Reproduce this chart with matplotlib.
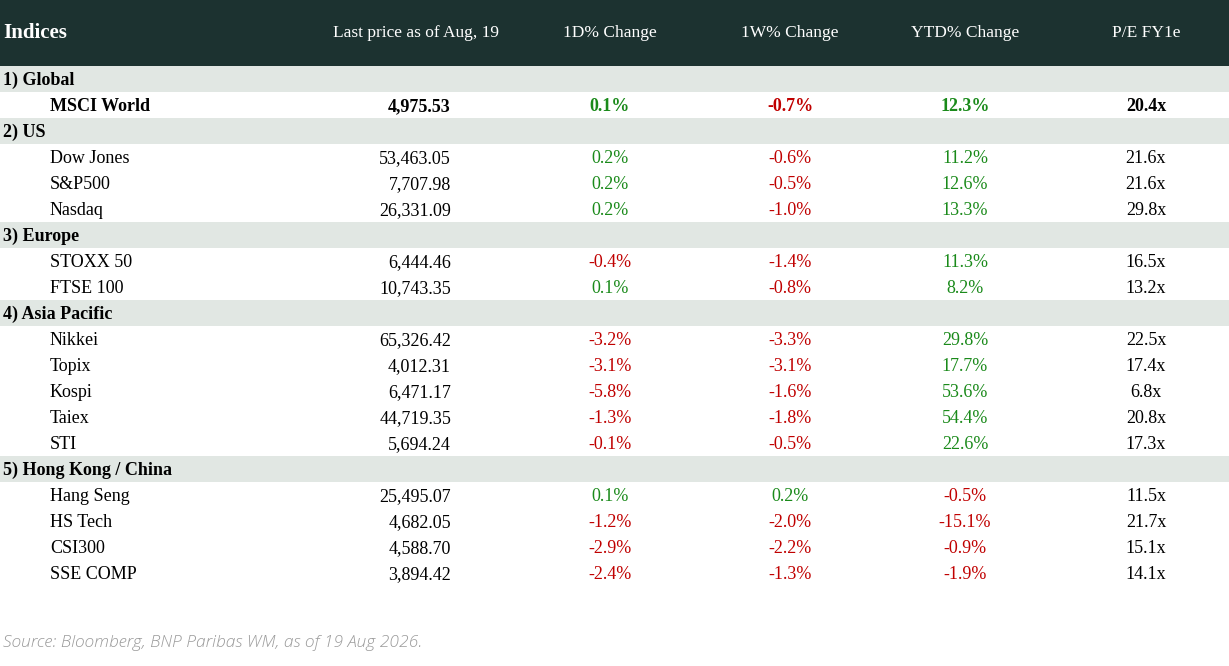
import matplotlib
matplotlib.use("Agg")
import matplotlib.pyplot as plt
from matplotlib.patches import Rectangle

## table data
headers = ["Indices", "Last price as of Aug, 19", "1D% Change", "1W% Change",
           "YTD% Change", "P/E FY1e"]
groups = ["1) Global", "2) US", "3) Europe", "4) Asia Pacific", "5) Hong Kong / China"]
group_members = [
    ["MSCI World"],
    ["Dow Jones", "S&P500", "Nasdaq"],
    ["STOXX 50", "FTSE 100"],
    ["Nikkei", "Topix", "Kospi", "Taiex", "STI"],
    ["Hang Seng", "HS Tech", "CSI300", "SSE COMP"],
]
last_price = {
    "MSCI World": 4975.53, "Dow Jones": 53463.05, "S&P500": 7707.98,
    "Nasdaq": 26331.09, "STOXX 50": 6444.46, "FTSE 100": 10743.35,
    "Nikkei": 65326.42, "Topix": 4012.31, "Kospi": 6471.17, "Taiex": 44719.35,
    "STI": 5694.24, "Hang Seng": 25495.07, "HS Tech": 4682.05,
    "CSI300": 4588.70, "SSE COMP": 3894.42,
}
chg_1d = [0.1, 0.2, 0.2, 0.2, -0.4, 0.1, -3.2, -3.1, -5.8, -1.3, -0.1, 0.1, -1.2, -2.9, -2.4]
chg_1w = [-0.7, -0.6, -0.5, -1.0, -1.4, -0.8, -3.3, -3.1, -1.6, -1.8, -0.5, 0.2, -2.0, -2.2, -1.3]
chg_ytd = [12.3, 11.2, 12.6, 13.3, 11.3, 8.2, 29.8, 17.7, 53.6, 54.4, 22.6, -0.5, -15.1, -0.9, -1.9]
pe_fy1 = [20.4, 21.6, 21.6, 29.8, 16.5, 13.2, 22.5, 17.4, 6.8, 20.8, 17.3, 11.5, 21.7, 15.1, 14.1]
bold_rows = ["MSCI World"]
source = "Source: Bloomberg, BNP Paribas WM, as of 19 Aug 2026."

## style
HEAD_BG = "#1c3230"
BAND_BG = "#e1e7e3"
GREEN = "#1a8a1a"
RED = "#c00000"
SERIF = "Liberation Serif"
W, H = 1229, 666
head_h = 66
row_h = 26
col_x = [3, 451, 610, 790, 965, 1146]   # price column is right aligned
item_x = 50
dy = 1.5   # text sits a little below the row centre

fig = plt.figure(figsize=(W / 100, H / 100), dpi=100)
ax = fig.add_axes([0, 0, 1, 1])
ax.set_xlim(0, W)
ax.set_ylim(H, 0)
ax.axis("off")

## header
ax.add_patch(Rectangle((0, 0), W, head_h, color=HEAD_BG, lw=0))
ax.text(col_x[0], head_h / 2, headers[0], color="white", fontsize=15,
        fontweight="bold", family=SERIF, va="center", ha="left")
ax.text(416, head_h / 2, headers[1], color="white", fontsize=12.5,
        family=SERIF, va="center", ha="center")
for x, h in zip(col_x[2:], headers[2:]):
    ax.text(x, head_h / 2, h, color="white", fontsize=12.5, family=SERIF,
            va="center", ha="center")

def pct_color(v):
    return GREEN if v > 0 else RED

row = 0
k = 0
for g, members in zip(groups, group_members):
    y0 = head_h + row * row_h
    ax.add_patch(Rectangle((0, y0), W, row_h, color=BAND_BG, lw=0))
    ax.text(col_x[0], y0 + row_h / 2 + dy, g, fontsize=13, fontweight="bold",
            family=SERIF, va="center", ha="left", color="black")
    row += 1
    for name in members:
        yc = head_h + row * row_h + row_h / 2 + dy
        fw = "bold" if name in bold_rows else "normal"
        kw = dict(fontsize=13, fontweight=fw, family=SERIF, va="center")
        ax.text(item_x, yc, name, ha="left", color="black", **kw)
        ax.text(col_x[1], yc, f"{last_price[name]:,.2f}", ha="right",
                color="black", **kw)
        for x, vals in zip(col_x[2:5], [chg_1d, chg_1w, chg_ytd]):
            v = vals[k]
            ax.text(x, yc, f"{v:.1f}%", ha="center", color=pct_color(v), **kw)
        ax.text(col_x[5], yc, f"{pe_fy1[k]:.1f}x", ha="center", color="black", **kw)
        row += 1
        k += 1

ax.text(3, 643, source, fontsize=12.5, style="italic", family="Open Sans",
        fontweight="light", color="#9a9a9a", va="center", ha="left")

fig.savefig("out.png", dpi=100)
